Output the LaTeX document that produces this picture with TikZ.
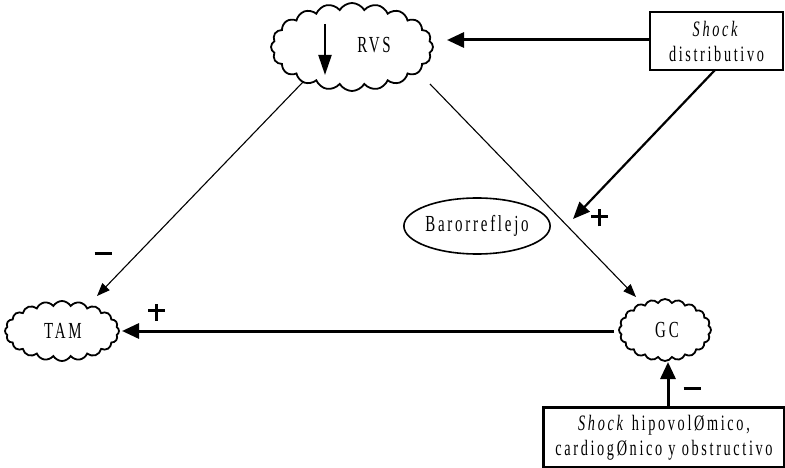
\documentclass[tikz,border=0pt]{standalone}
\usepackage{fontspec}
\setmainfont{Liberation Serif}
\newfontfamily\labelfont[FakeStretch=0.65,LetterSpace=12]{Liberation Serif}
\usetikzlibrary{shapes.symbols,shapes.geometric,arrows.meta}
\tikzset{
  puff/.style={cloud, draw, line width=1.8pt, cloud puffs=20, cloud puff arc=120, inner sep=0pt},
  lbl/.style={font=\labelfont\fontsize{23}{25}\selectfont, inner sep=0pt},
  boxnode/.style={draw, line width=2.5pt, inner sep=0pt},
  thinarrow/.style={line width=1.1pt, -{Triangle[length=13pt,width=10pt]}},
  thickarrow/.style={line width=3pt, -{Triangle[length=17pt,width=15pt]}},
  sign/.style={inner sep=0pt}
}
\begin{document}
\begin{tikzpicture}[x=1pt,y=-1pt]
\useasboundingbox (0,0) rectangle (785,468);

% clouds
\node[puff, minimum width=162pt, minimum height=88pt] (rvs) at (352,47) {};
\node[puff, minimum width=114pt, minimum height=60pt] (tam) at (62,331) {};
\node[puff, minimum width=92pt, minimum height=62pt] (gc) at (665,330) {};
\node[lbl] (rvstext) at (374,45) {RVS};
\node[lbl] (tamtext) at (63,331) {TAM};
\node[lbl] (gctext) at (667,330) {GC};

% arrow inside the RVS cloud
\coordinate (dtop) at (325,24);
\coordinate (dbot) at (325,75);
\draw[line width=2.2pt, -{Triangle[length=20pt,width=13pt]}] (dtop) -- (dbot);

% boxes
\node[boxnode, minimum width=133pt, minimum height=58pt, align=center, font=\labelfont\fontsize{22}{25}\selectfont] (sd) at (716.5,41)
  {\textit{Shock}\\distributivo};
\node[boxnode, minimum width=241pt, minimum height=60pt, align=center, font=\labelfont\fontsize{22}{25}\selectfont] (sh) at (664,437.5)
  {\textit{Shock} hipovolØmico,\\cardiogØnico y obstructivo};

% baroreflex
\node[ellipse, draw, line width=1.6pt, minimum width=134pt, minimum height=56pt, lbl] (baro) at (477,226) {Barorreflejo};

% connector end points
\coordinate (rvsin) at (447,40);
\coordinate (sdtip) at (573,219);
\coordinate (rvsl) at (303,82);
\coordinate (tamtip) at (97,296);
\coordinate (rvsr) at (430,84);
\coordinate (gctip) at (636,297);
\coordinate (gcl) at (614,331);
\coordinate (tamin) at (122,331);
\coordinate (shtop) at (668,407);
\coordinate (gcin) at (668,362);

\draw[thickarrow] (sd.west |- rvsin) -- (rvsin);
\draw[line width=2.2pt, -{Triangle[length=17pt,width=14pt]}] (715,70) -- (sdtip);
\draw[thinarrow] (rvsl) -- (tamtip);
\draw[thinarrow] (rvsr) -- (gctip);
\draw[thickarrow] (gcl) -- (tamin);
\draw[thickarrow] (shtop) -- (gcin);

% signs: plus and minus marks
\node[sign] (s1) at (103,253) {\rule{17pt}{3pt}};
\node[sign] (s2) at (603,218) {\rule[-8.5pt]{3pt}{17pt}\kern-10pt\rule{17pt}{3pt}};
\node[sign] (s3) at (160,312) {\rule[-8.5pt]{3pt}{17pt}\kern-10pt\rule{17pt}{3pt}};
\node[sign] (s4) at (692,388) {\rule{17pt}{3pt}};
\end{tikzpicture}
\end{document}
